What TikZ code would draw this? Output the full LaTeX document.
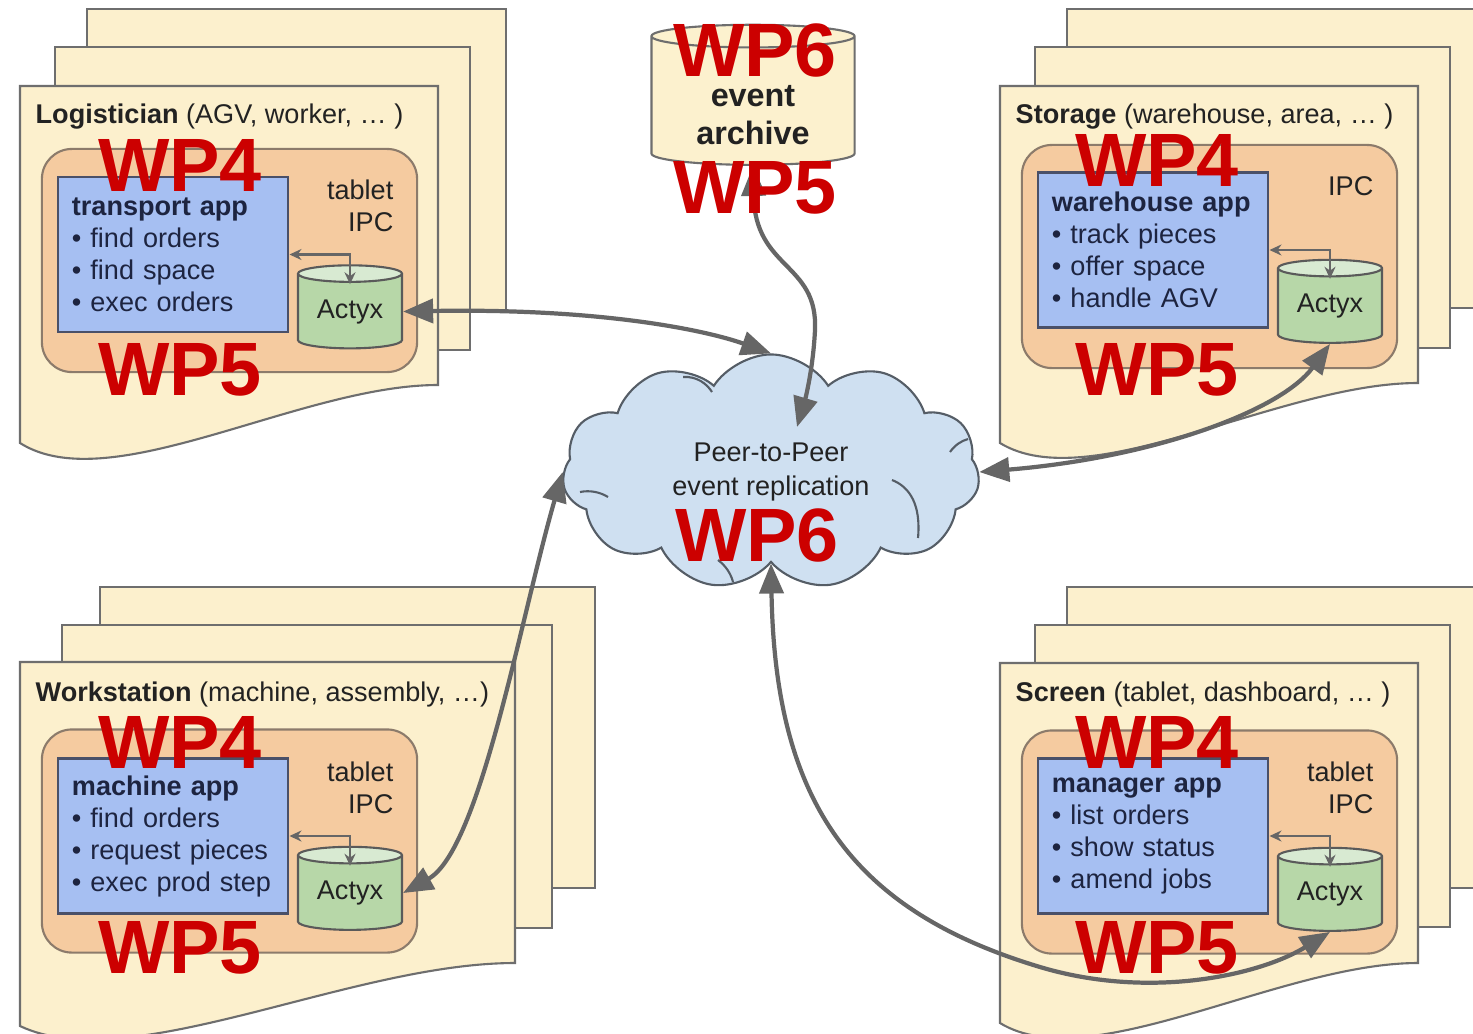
\documentclass[tikz,border=0pt]{standalone}
\usepackage{fontspec}
\setmainfont{Liberation Sans}
\usetikzlibrary{arrows.meta,shapes.geometric,shapes.symbols}

\definecolor{cardfill}{HTML}{FCF0CD}
\definecolor{cardline}{HTML}{6E6E6E}
\definecolor{sitefill}{HTML}{F5CBA0}
\definecolor{siteline}{HTML}{8C7B6B}
\definecolor{appfill}{HTML}{A6BFF2}
\definecolor{appline}{HTML}{4A5068}
\definecolor{appink}{HTML}{1D2440}
\definecolor{dbfill}{HTML}{B7D7A8}
\definecolor{dbtop}{HTML}{D8EAD2}
\definecolor{dbline}{HTML}{5A5A5A}
\definecolor{archfill}{HTML}{FCF1CE}
\definecolor{cloudfill}{HTML}{CFE0F1}
\definecolor{cloudline}{HTML}{555D66}
\definecolor{flowgray}{HTML}{666666}
\definecolor{ink}{HTML}{222222}
\definecolor{wpred}{HTML}{CC0000}

\tikzset{
	card/.style={draw=cardline, fill=cardfill, line width=0.6pt},
	site/.style={draw=siteline, fill=sitefill, line width=0.6pt, rounded corners=0.3cm,
			minimum width=3.75cm, minimum height=2.23cm},
	app/.style={draw=appline, fill=appfill, line width=0.8pt, minimum width=2.3cm,
			minimum height=1.55cm, text width=2.02cm, inner xsep=0.14cm, align=left,
			text=appink, font=\fontsize{7.7}{9.1}\selectfont},
	store/.style={cylinder, shape border rotate=90, aspect=0.25, draw=dbline, line width=0.6pt,
			cylinder uses custom fill, cylinder body fill=dbfill, cylinder end fill=dbtop,
			minimum width=1.04cm, minimum height=0.83cm, inner sep=0pt,
			text=ink, font=\fontsize{7.7}{9.1}\selectfont},
	archive/.style={cylinder, shape border rotate=90, aspect=0.2, draw=cardline, line width=0.6pt,
			fill=archfill, minimum width=2.03cm, minimum height=1.4cm, inner sep=0pt,
			align=center, font=\fontsize{9.2}{10.8}\selectfont\bfseries},
	archtext/.style={align=center, inner sep=0pt, text=ink, font=\fontsize{9.2}{10.8}\selectfont\bfseries},
	p2p/.style={cloud, cloud puffs=11, cloud puff arc=115, aspect=1.77, draw=cloudline,
			line width=0.6pt, fill=cloudfill, minimum width=4.17cm, minimum height=2.35cm,
			align=center, text=ink, font=\fontsize{7.7}{9.4}\selectfont},
	fold/.style={draw=cloudline, line width=0.6pt},
	title/.style={anchor=west, inner sep=0pt, text=ink, font=\fontsize{7.7}{9.1}\selectfont},
	kind/.style={anchor=east, align=right, inner sep=0pt, text=ink, font=\fontsize{7.7}{9.1}\selectfont},
	flow/.style={draw=flowgray, line width=1.2pt, >={Triangle[length=0.3cm,width=0.24cm]}, <->},
	sync/.style={draw=flowgray, line width=0.6pt, >={Stealth[length=0.12cm,width=0.11cm]}, <->},
	wp/.style={inner sep=0pt, text=wpred, font=\fontsize{21.5}{21.5}\selectfont\bfseries}
}

\begin{document}
\begin{tikzpicture}[x=0.01cm, y=-0.01cm]
    \useasboundingbox[fill=white] (0,0) rectangle (1473,1033);
    \clip (0,0) rectangle (1473,1033);

    % Logistician
    \begin{scope}
        \draw[card] (87,9) rectangle (506,310);
        \draw[card] (55,47) rectangle (470,350);
        \draw[card] (20,86) -- (438,86) -- (438,385) .. controls (300,385) and (110,500) .. (20,443) -- cycle;
        \node[title] (log-title) at (35,117) {\textbf{Logistician} (AGV, worker, … )};
        \node[site] (log-site) at (229.5,260.5) {};
        \node[kind] (log-kind) at (394,206) {tablet\\IPC};
        \node[app] (log-app) at (173,254.5) {\textbf{transport app}\\• find orders\\• find space\\• exec orders};
        \node[store] (log-db) at (350,311.5) {Actyx};
        \draw[sync] (log-app.east) -| ([yshift=-0.2cm]log-db.north);
    \end{scope}

    % Storage
    \begin{scope}[shift={(980,-2)}]
        \draw[card] (87,11) rectangle (520,310);
        \draw[card] (55,49) rectangle (470,350);
        \draw[card] (20,88) -- (438,88) -- (438,385) .. controls (300,385) and (110,500) .. (20,445) -- cycle;
        \node[title] (sto-title) at (35,119) {\textbf{Storage} (warehouse, area, … )};
        \node[site] (sto-site) at (229.5,258.5) {};
        \node[kind] (sto-kind) at (394,188) {IPC};
        \node[app] (sto-app) at (173,252) {\textbf{warehouse app}\\• track pieces\\• offer space\\• handle AGV};
        \node[store] (sto-db) at (350,308) {Actyx};
        \draw[sync] (sto-app.east) -| ([yshift=-0.2cm]sto-db.north);
    \end{scope}

    % Workstation
    \begin{scope}[shift={(0,578)}]
        \draw[card] (100,9) rectangle (595,310);
        \draw[card] (62,47) rectangle (552,350);
        \draw[card] (20,84) -- (515,84) -- (515,385) .. controls (350,385) and (130,500) .. (20,448) -- cycle;
        \node[title] (ws-title) at (35,116) {\textbf{Workstation} (machine, assembly, …)};
        \node[site] (ws-site) at (229.5,263) {};
        \node[kind] (ws-kind) at (394,210) {tablet\\IPC};
        \node[app] (ws-app) at (173,258) {\textbf{machine app}\\• find orders\\• request pieces\\• exec prod step};
        \node[store] (ws-db) at (350,315) {Actyx};
        \draw[sync] (ws-app.east) -| ([yshift=-0.2cm]ws-db.north);
    \end{scope}

    % Screen
    \begin{scope}[shift={(980,578)}]
        \draw[card] (87,9) rectangle (520,310);
        \draw[card] (55,47) rectangle (470,349);
        \draw[card] (20,85) -- (438,85) -- (438,385) .. controls (300,385) and (110,500) .. (20,445) -- cycle;
        \node[title] (scr-title) at (35,116) {\textbf{Screen} (tablet, dashboard, … )};
        \node[site] (scr-site) at (229.5,264) {};
        \node[kind] (scr-kind) at (394,210) {tablet\\IPC};
        \node[app] (scr-app) at (173,258) {\textbf{manager app}\\• list orders\\• show status\\• amend jobs};
        \node[store] (scr-db) at (350,316) {Actyx};
        \draw[sync] (scr-app.east) -| ([yshift=-0.2cm]scr-db.north);
    \end{scope}

    % archive and replication cloud
    \node[archive] (arch) at (753,101) {\phantom{event}\\\phantom{archive}};
    \node[archtext] (arch-text) at (753,115) {event\\archive};
    \node[p2p] (p2p) at (771,472) {Peer-to-Peer\\event replication};
    \draw[fold] (683,377) .. controls (697,376) and (707,384) .. (712,392);
    \draw[fold] (580,492) .. controls (590,490) and (600,492) .. (608,497);
    \draw[fold] (718,560) .. controls (726,566) and (731,574) .. (733,582);
    \draw[fold] (950,452) .. controls (955,445) and (961,441) .. (968,439);
    \draw[fold] (892,480) .. controls (910,487) and (921,505) .. (918,538);
    \coordinate (p2p-in) at (797,427);

    \draw[flow] (log-db.east) .. controls (600,308) and (705,330) .. (p2p.north);
    \draw[flow] (arch.south) .. controls (755,270) and (818,262) .. (815,330) .. controls (813,370) and (805,400) .. (p2p-in);
    \draw[flow] (p2p.east) .. controls (1150,458) and (1280,412) .. (sto-db.south);
    \draw[flow] (ws-db.east) .. controls (480,850) and (520,620) .. (p2p.west);
    \draw[flow] (p2p.south) .. controls (775,800) and (850,910) .. (1040,967) .. controls (1150,1000) and (1260,975) .. (scr-db.south);

    % work packages
    \node[wp] (log-wp4) at (180,165) {WP4};
    \node[wp] (log-wp5) at (180,370) {WP5};
    \node[wp] (sto-wp4) at (1157,160) {WP4};
    \node[wp] (sto-wp5) at (1157,370) {WP5};
    \node[wp] (ws-wp4) at (180,742) {WP4};
    \node[wp] (ws-wp5) at (180,948) {WP5};
    \node[wp] (scr-wp4) at (1157,742) {WP4};
    \node[wp] (scr-wp5) at (1157,948) {WP5};
    \node[wp] (arch-wp6) at (755,50) {WP6};
    \node[wp] (arch-wp5) at (755,188) {WP5};
    \node[wp] (p2p-wp6) at (757,535) {WP6};
\end{tikzpicture}
\end{document}
